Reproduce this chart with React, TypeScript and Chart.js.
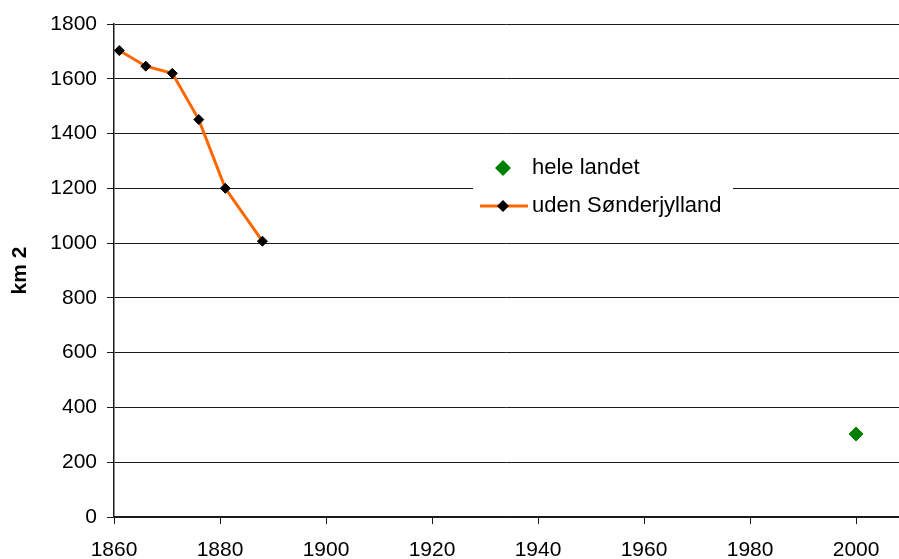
import React, { useEffect, useRef } from "react";
import { Chart, registerables } from "chart.js";

Chart.register(...registerables);

const helYears = [2000];
const helValues = [303];
const udenYears = [1861, 1866, 1871, 1876, 1881, 1888];
const udenValues = [1703, 1646, 1620, 1451, 1200, 1007];
const seriesNames = ["hele landet", "uden Sønderjylland"];
const yTitle = "km 2";

const FONT = '"Liberation Sans", Arial, Helvetica, sans-serif';
const INK = "#1a1a1a";

const legendPlugin = {
  id: "customLegend",
  afterDatasetsDraw(chart: any) {
    const ctx = chart.ctx as CanvasRenderingContext2D;
    const ds = chart.data.datasets;
    ctx.save();
    ctx.fillStyle = "#fff";
    ctx.fillRect(473, 146, 260, 84);
    const diamond = (x: number, y: number, r: number, c: string) => {
      ctx.beginPath();
      ctx.moveTo(x - r, y);
      ctx.lineTo(x, y - r);
      ctx.lineTo(x + r, y);
      ctx.lineTo(x, y + r);
      ctx.closePath();
      ctx.fillStyle = c;
      ctx.fill();
    };
    diamond(503, 168, 8, ds[0].backgroundColor);
    ctx.strokeStyle = ds[1].borderColor;
    ctx.lineWidth = 3;
    ctx.beginPath();
    ctx.moveTo(480, 206);
    ctx.lineTo(528, 206);
    ctx.stroke();
    diamond(503, 206, 6, ds[1].pointBackgroundColor);
    ctx.fillStyle = "#000";
    ctx.font = `22px ${FONT}`;
    ctx.textBaseline = "alphabetic";
    ctx.textAlign = "left";
    ctx.fillText(ds[0].label, 532, 174);
    ctx.fillText(ds[1].label, 532, 212);
    ctx.restore();
  },
};

export default function App() {
  const ref = useRef<HTMLCanvasElement>(null);
  useEffect(() => {
    if (!ref.current) return;
    const chart = new Chart(ref.current, {
      type: "scatter",
      data: {
        datasets: [
          {
            label: seriesNames[0],
            data: helYears.map((x, i) => ({ x, y: helValues[i] })),
            backgroundColor: "#008000",
            borderColor: "#008000",
            pointStyle: "rectRot",
            pointRadius: 7,
            pointBorderWidth: 1,
            showLine: false,
          },
          {
            label: seriesNames[1],
            data: udenYears.map((x, i) => ({ x, y: udenValues[i] })),
            borderColor: "#FF6600",
            backgroundColor: "#FF6600",
            borderWidth: 3,
            showLine: true,
            pointStyle: "rectRot",
            pointRadius: 5,
            pointBorderWidth: 1,
            pointBackgroundColor: "#000",
            pointBorderColor: "#000",
          },
        ],
      },
      options: {
        responsive: false,
        animation: false,
        devicePixelRatio: 1,
        layout: { autoPadding: false, padding: { top: 24, right: 0, bottom: 0, left: 0 } },
        plugins: {
          legend: { display: false },
          tooltip: { enabled: false },
        },
        scales: {
          x: {
            type: "linear",
            min: 1860,
            max: 2008.1,
            afterFit: (s: any) => {
              s.height = 42;
              s.paddingRight = 0;
              s.paddingLeft = 0;
            },
            ticks: {
              stepSize: 20,
              includeBounds: false,
              color: "#000",
              font: { family: FONT, size: 21 },
              padding: 14,
              maxRotation: 0,
              callback: (v: any) => String(v),
            },
            grid: {
              drawOnChartArea: false,
              drawTicks: true,
              tickLength: 7,
              color: INK,
            },
            border: { color: INK, width: 1.5 },
          },
          y: {
            min: 0,
            max: 1800,
            afterFit: (s: any) => {
              s.width = 114;
            },
            ticks: {
              stepSize: 200,
              color: "#000",
              font: { family: FONT, size: 21 },
              padding: 10,
              callback: (v: any) => String(v),
            },
            grid: {
              color: INK,
              tickLength: 7,
            },
            border: { color: INK, width: 1.5 },
            title: {
              display: true,
              text: yTitle,
              color: "#000",
              font: { family: FONT, size: 21, weight: "bold" },
              padding: { top: 8, bottom: 0 },
            },
          },
        },
      },
      plugins: [legendPlugin],
    });
    return () => chart.destroy();
  }, []);
  return (
    <div style={{ position: "absolute", left: 0, top: 0, width: 899, height: 559 }}>
      <canvas ref={ref} width={899} height={559} />
    </div>
  );
}
